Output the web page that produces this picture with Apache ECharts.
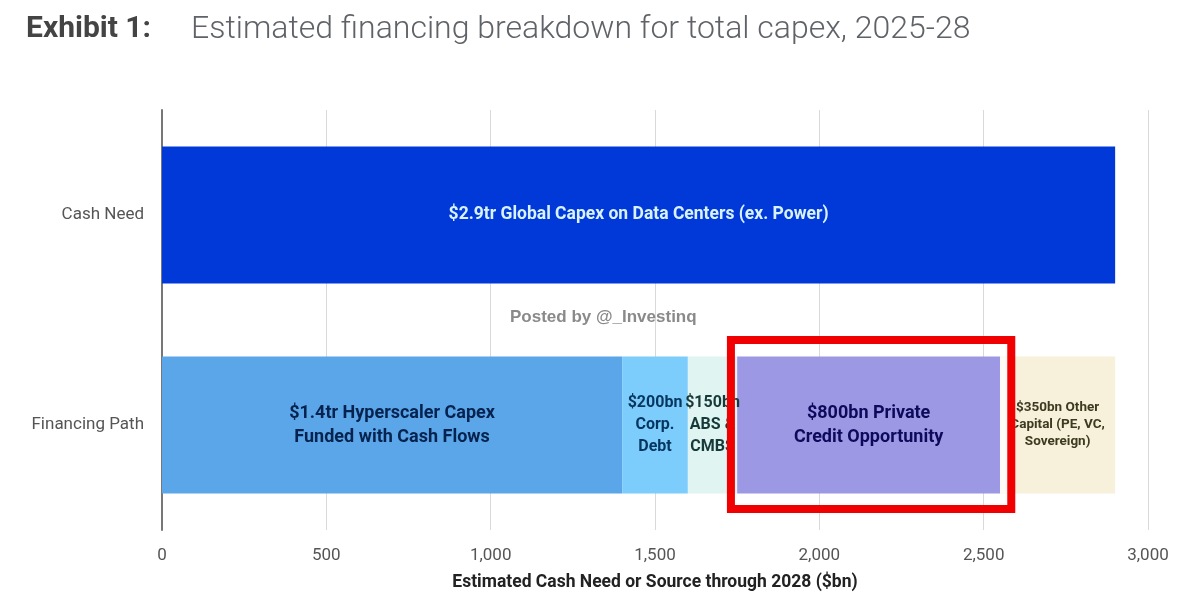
<!DOCTYPE html>
<html lang="en">
<head>
  <meta charset="utf-8" />
  <title>Estimated financing breakdown</title>
  <script src="https://cdn.jsdelivr.net/npm/echarts@6/dist/echarts.min.js"></script>
  <style>
    html, body { margin: 0; padding: 0; background: #fff; }
  </style>
</head>
<body>
  <div id="main" style="width: 1200px;height:602px;"></div>
  <script>
    var categories = ['Cash Need', 'Financing Path'];
    var xTicks = { min: 0, max: 3000, interval: 500 };

    var capexValues = [2900, null];
    var hyperscalerValues = [null, 1400];
    var corpDebtValues = [null, 200];
    var absValues = [null, 150];
    var privateCreditValues = [null, 800];
    var otherValues = [null, 350];

    var capexLabel = '$2.9tr Global Capex on Data Centers (ex. Power)';
    var hyperscalerLabel = '$1.4tr Hyperscaler Capex\nFunded with Cash Flows';
    var corpDebtLabel = '$200bn\nCorp.\nDebt';
    var absLabel = '$150bn\nABS &\nCMBS';
    var privateCreditLabel = '$800bn Private\nCredit Opportunity';
    var otherLabel = '$350bn Other\nCapital (PE, VC,\nSovereign)';

    // highlight frame around the private credit block, in axis units
    var frameFrom = 1731;
    var frameTo = 2584;
    var privateCreditEnd = 2550;

    var condensed = 'Roboto, sans-serif';

    function barSeries(name, values, color, label, labelColor, fontSize, lineHeight) {
      return {
        name: name,
        type: 'bar',
        stack: 'total',
        barWidth: 137,
        data: values,
        itemStyle: { color: color },
        label: {
          show: true,
          position: 'inside',
          formatter: label,
          color: labelColor,
          fontFamily: condensed,
          fontWeight: 'bold',
          fontSize: fontSize,
          lineHeight: lineHeight,
          align: 'center'
        }
      };
    }

    var myChart = echarts.init(document.getElementById('main'));
    myChart.setOption({
      animation: false,
      backgroundColor: '#fff',
      title: [
        {
          text: 'Exhibit 1:',
          left: 21,
          top: 9,
          textStyle: { fontFamily: 'Roboto', fontWeight: 'bold', fontSize: 30, color: '#444' }
        },
        {
          text: 'Estimated financing breakdown for total capex, 2025-28',
          left: 186,
          top: 9,
          textStyle: { fontFamily: 'Roboto', fontWeight: 300, fontSize: 32, color: '#5f6368' }
        }
      ],
      grid: { left: 162, right: 52, top: 110, bottom: 72 },
      xAxis: {
        type: 'value',
        min: xTicks.min,
        max: xTicks.max,
        interval: xTicks.interval,
        name: 'Estimated Cash Need or Source through 2028 ($bn)',
        nameLocation: 'middle',
        nameGap: 44,
        nameTextStyle: { fontFamily: condensed, fontWeight: 'bold', fontSize: 17.5, color: '#222' },
        axisLine: { show: false },
        axisTick: { show: false },
        axisLabel: { margin: 17, fontFamily: condensed, fontSize: 17, color: '#555' },
        splitLine: { lineStyle: { color: '#d9d9d9', width: 1 } }
      },
      yAxis: {
        type: 'category',
        inverse: true,
        data: categories,
        axisLine: { lineStyle: { color: '#777', width: 2 } },
        axisTick: { show: false },
        axisLabel: { margin: 18, fontFamily: condensed, fontSize: 17, color: '#555' }
      },
      series: [
        barSeries('Global Capex', capexValues, '#0039d8', capexLabel, '#d8f3ff', 17.5, 22),
        barSeries('Hyperscaler Capex', hyperscalerValues, '#5aa6e8', hyperscalerLabel, '#06224f', 18, 24),
        barSeries('Corp. Debt', corpDebtValues, '#7dcdfc', corpDebtLabel, '#05365f', 16, 22),
        barSeries('ABS & CMBS', absValues, '#e0f4f1', absLabel, '#163a3a', 16, 22),
        barSeries('Private Credit', privateCreditValues, '#9d98e3', privateCreditLabel, '#0d0a5c', 18, 24),
        barSeries('Other Capital', otherValues, '#f7f0da', otherLabel, '#3c3a20', 13.5, 17)
      ]
    });

    // red frame is placed from the axis scales once they exist
    var x0 = myChart.convertToPixel({ xAxisIndex: 0 }, frameFrom);
    var x1 = myChart.convertToPixel({ xAxisIndex: 0 }, frameTo);
    var xEnd = myChart.convertToPixel({ xAxisIndex: 0 }, privateCreditEnd);
    var yMid = myChart.convertToPixel({ yAxisIndex: 0 }, categories[1]);
    myChart.setOption({
      graphic: [
        {
          type: 'text',
          left: 510,
          top: 309,
          z: 50,
          style: {
            text: 'Posted by @_Investinq',
            font: 'bold 17px "Liberation Sans", sans-serif',
            fill: '#8a8a8a'
          }
        },
        {
          // pale gap between the purple block and the frame
          type: 'rect',
          z: 55,
          shape: { x: xEnd, y: yMid - 68.5, width: x1 - xEnd, height: 137 },
          style: { fill: 'rgba(255,255,255,0.75)' }
        },
        {
          type: 'rect',
          z: 60,
          shape: { x: x0, y: yMid - 85, width: x1 - x0, height: 169 },
          style: { fill: 'none', stroke: '#f00000', lineWidth: 8 }
        }
      ]
    });
  </script>
</body>
</html>
